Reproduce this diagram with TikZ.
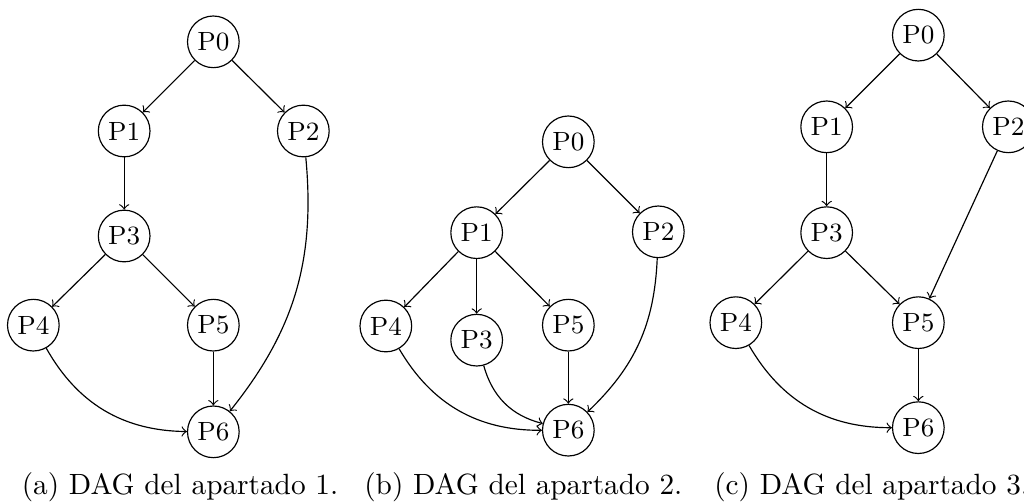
\documentclass[tikz,border=0pt]{standalone}
\usepackage{tikz}
\usetikzlibrary{arrows,positioning}

\begin{document}
\begin{tikzpicture}[
  proc/.style={circle, draw, minimum size=0.62cm, inner sep=0pt,
    font=\fontsize{9}{10.8}\selectfont},
  dep/.style={->},
  capt/.style={anchor=base, font=\normalsize}
]
\useasboundingbox (0,0) rectangle (12.288,6.012);

% DAG 1
\node[proc] (a0) at (2.56,5.51) {P0};
\node[proc] (a1) at (1.49,4.44) {P1};
\node[proc] (a2) at (3.64,4.44) {P2};
\node[proc] (a3) at (1.49,3.18) {P3};
\node[proc] (a4) at (0.40,2.11) {P4};
\node[proc] (a5) at (2.56,2.11) {P5};
\node[proc] (a6) at (2.56,0.83) {P6};
\node[capt] (capa) at (2.16,0.08) {(a) DAG del apartado 1.};

\foreach \u/\v in {a0/a1, a0/a2, a1/a3, a3/a4, a3/a5, a5/a6} {
  \draw[dep] (\u) -- (\v);
}
\draw[dep] (a4) to[bend right=30] (a6);
\draw[dep] (a2) to[bend left=22] (a6);

% DAG 2
\node[proc] (b0) at (6.82,4.31) {P0};
\node[proc] (b1) at (5.72,3.22) {P1};
\node[proc] (b2) at (7.90,3.23) {P2};
\node[proc] (b4) at (4.63,2.10) {P4};
\node[proc] (b3) at (5.72,1.93) {P3};
\node[proc] (b5) at (6.82,2.11) {P5};
\node[proc] (b6) at (6.82,0.85) {P6};
\node[capt] (capb) at (6.28,0.08) {(b) DAG del apartado 2.};

\foreach \u/\v in {b0/b1, b0/b2, b1/b4, b1/b3, b1/b5, b5/b6} {
  \draw[dep] (\u) -- (\v);
}
\draw[dep] (b4) to[bend right=30] (b6);
\draw[dep] (b3) to[bend right=30] (b6);
\draw[dep] (b2) to[bend left=22] (b6);

% DAG 3
\node[proc] (c0) at (11.02,5.59) {P0};
\node[proc] (c1) at (9.92,4.49) {P1};
\node[proc] (c2) at (12.10,4.49) {P2};
\node[proc] (c3) at (9.92,3.22) {P3};
\node[proc] (c4) at (8.83,2.14) {P4};
\node[proc] (c5) at (11.02,2.14) {P5};
\node[proc] (c6) at (11.02,0.88) {P6};
\node[capt] (capc) at (10.46,0.08) {(c) DAG del apartado 3.};

\foreach \u/\v in {c0/c1, c0/c2, c1/c3, c3/c4, c3/c5, c2/c5, c5/c6} {
  \draw[dep] (\u) -- (\v);
}
\draw[dep] (c4) to[bend right=30] (c6);

\end{tikzpicture}
\end{document}
